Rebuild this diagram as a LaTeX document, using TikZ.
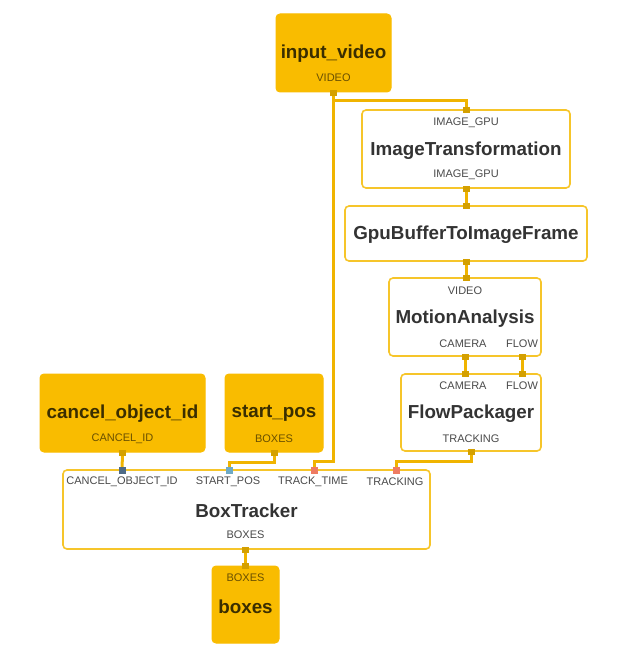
\documentclass[tikz,border=0pt]{standalone}
\usepackage{fontspec}
\setmainfont{Liberation Sans}
\definecolor{gold}{HTML}{F9BC00}
\definecolor{wirec}{HTML}{F0B400}
\definecolor{bord}{HTML}{F6C52A}
\definecolor{portc}{HTML}{D4A000}
\definecolor{titlec}{HTML}{333333}
\definecolor{labc}{HTML}{4A4A4A}
\definecolor{srctitle}{HTML}{3A2E00}
\definecolor{srclab}{HTML}{6A5000}
\definecolor{pslate}{HTML}{4E6A86}
\definecolor{pblue}{HTML}{6FAAC6}
\definecolor{psalmon}{HTML}{EE7B62}
\tikzset{
  srcbox/.style={fill=gold, draw=gold, line width=1pt, rounded corners=4pt, inner sep=0pt},
  calcbox/.style={fill=white, draw=bord, line width=1.6pt, rounded corners=4pt, inner sep=0pt},
  ttl/.style={font=\bfseries\fontsize{18.8}{21}\selectfont, text=titlec, inner sep=0pt, yshift=-1.5pt},
  sttl/.style={font=\bfseries\fontsize{18.8}{21}\selectfont, text=srctitle, inner sep=0pt, yshift=-1.5pt},
  plab/.style={font=\fontsize{11}{13}\selectfont, text=labc, inner sep=0pt},
  splab/.style={font=\fontsize{11}{13}\selectfont, text=srclab, inner sep=0pt},
  port/.style={fill=portc, minimum width=7pt, minimum height=6pt, inner sep=0pt},
  inport/.style={minimum width=7pt, minimum height=7pt, inner sep=0pt},
  wire/.style={draw=wirec, line width=3pt}
}
\begin{document}
\begin{tikzpicture}[x=1pt,y=-1pt]
\useasboundingbox (0,0) rectangle (617,663);
% boxes
\node[srcbox, minimum width=115pt, minimum height=78pt] (iv) at (333.5,53) {};
\node[calcbox, minimum width=208pt, minimum height=78pt] (it) at (466,149) {};
\node[calcbox, minimum width=242pt, minimum height=55pt] (gb) at (466,233.5) {};
\node[calcbox, minimum width=152pt, minimum height=78pt] (ma) at (465,317) {};
\node[calcbox, minimum width=140pt, minimum height=77pt] (fp) at (471,412.5) {};
\node[srcbox, minimum width=165pt, minimum height=78pt] (co) at (122.5,413) {};
\node[srcbox, minimum width=98pt, minimum height=78pt] (sp) at (274,413) {};
\node[calcbox, minimum width=367pt, minimum height=79pt] (bt) at (246.5,509.5) {};
\node[srcbox, minimum width=67pt, minimum height=77pt] (bx) at (245.5,604.5) {};
% texts
\node[sttl] (ivt) at (333.5,52) {input\_video};
\node[splab] (ivl) at (333.5,78) {VIDEO};
\node[plab] (itl1) at (466,123) {IMAGE\_GPU};
\node[ttl] (itt) at (466,149) {ImageTransformation};
\node[plab] (itl2) at (466,175) {IMAGE\_GPU};
\node[ttl] (gbt) at (466,233) {GpuBufferToImageFrame};
\node[plab] (mal1) at (465,291) {VIDEO};
\node[ttl] (mat) at (465,317) {MotionAnalysis};
\node[plab] (mal2) at (463,344) {CAMERA};
\node[plab] (mal3) at (522,344) {FLOW};
\node[plab] (fpl1) at (463,386) {CAMERA};
\node[plab] (fpl2) at (522,386) {FLOW};
\node[ttl] (fpt) at (471,412) {FlowPackager};
\node[plab] (fpl3) at (471,439) {TRACKING};
\node[sttl] (cot) at (122.5,412) {cancel\_object\_id};
\node[splab] (col) at (122.5,439) {CANCEL\_ID};
\node[sttl] (spt) at (274,412) {start\_pos};
\node[splab] (spl) at (274,439) {BOXES};
\node[plab] (btl1) at (122,482) {CANCEL\_OBJECT\_ID};
\node[plab] (btl2) at (228,482) {START\_POS};
\node[plab] (btl3) at (313,482) {TRACK\_TIME};
\node[plab] (btl4) at (395,482) {TRACKING};
\node[ttl] (btt) at (246.5,509) {BoxTracker};
\node[plab] (btl5) at (245.5,535) {BOXES};
\node[splab] (bxl) at (245.5,578) {BOXES};
\node[sttl] (bxt) at (245.5,605) {boxes};
% ports
\node[port] (ivo) at (333,93) {};
\node[port] (iti) at (466,110) {};
\node[port] (ito) at (466,189) {};
\node[port] (gbi) at (466,206) {};
\node[port] (gbo) at (466,262) {};
\node[port] (mai) at (466,278) {};
\node[port] (mao1) at (465,357) {};
\node[port] (mao2) at (522,357) {};
\node[port] (fpi1) at (465,374) {};
\node[port] (fpi2) at (522,374) {};
\node[port] (fpo) at (471,452) {};
\node[port] (coo) at (122.5,453) {};
\node[port] (spo) at (274,453) {};
\node[port] (bto) at (245.5,550) {};
\node[port] (bxi) at (245.5,566) {};
\node[inport, fill=pslate] (bti1) at (122,470) {};
\node[inport, fill=pblue] (bti2) at (229,470) {};
\node[inport, fill=psalmon] (bti3) at (314,470) {};
\node[inport, fill=psalmon] (bti4) at (396,470) {};
% wires
\coordinate (j1) at (333,101);
\draw[wire] (ivo.center) -- (333,461) -| (bti3.center);
\draw[wire] (ivo.center) -- (j1) -| (iti.center);
\draw[wire] (ito.center) -- (gbi.center);
\draw[wire] (gbo.center) -- (mai.center);
\draw[wire] (mao1.center) -- (fpi1.center);
\draw[wire] (mao2.center) -- (fpi2.center);
\draw[wire] (fpo.center) -- (471,461) -| (bti4.center);
\draw[wire] (spo.center) -- (274,462) -| (bti2.center);
\draw[wire] (coo.center) -- (bti1.center);
\draw[wire] (bto.center) -- (bxi.center);
% redraw ports on top
\foreach \p in {ivo,iti,ito,gbi,gbo,mai,mao1,mao2,fpi1,fpi2,fpo,coo,spo,bto,bxi}{
  \fill[portc] ([xshift=-3.5pt,yshift=3pt]\p.center) rectangle ([xshift=3.5pt,yshift=-3pt]\p.center);
}
\fill[pslate] ([xshift=-3.5pt,yshift=3.5pt]bti1.center) rectangle ([xshift=3.5pt,yshift=-3.5pt]bti1.center);
\fill[pblue] ([xshift=-3.5pt,yshift=3.5pt]bti2.center) rectangle ([xshift=3.5pt,yshift=-3.5pt]bti2.center);
\fill[psalmon] ([xshift=-3.5pt,yshift=3.5pt]bti3.center) rectangle ([xshift=3.5pt,yshift=-3.5pt]bti3.center);
\fill[psalmon] ([xshift=-3.5pt,yshift=3.5pt]bti4.center) rectangle ([xshift=3.5pt,yshift=-3.5pt]bti4.center);
\end{tikzpicture}
\end{document}
